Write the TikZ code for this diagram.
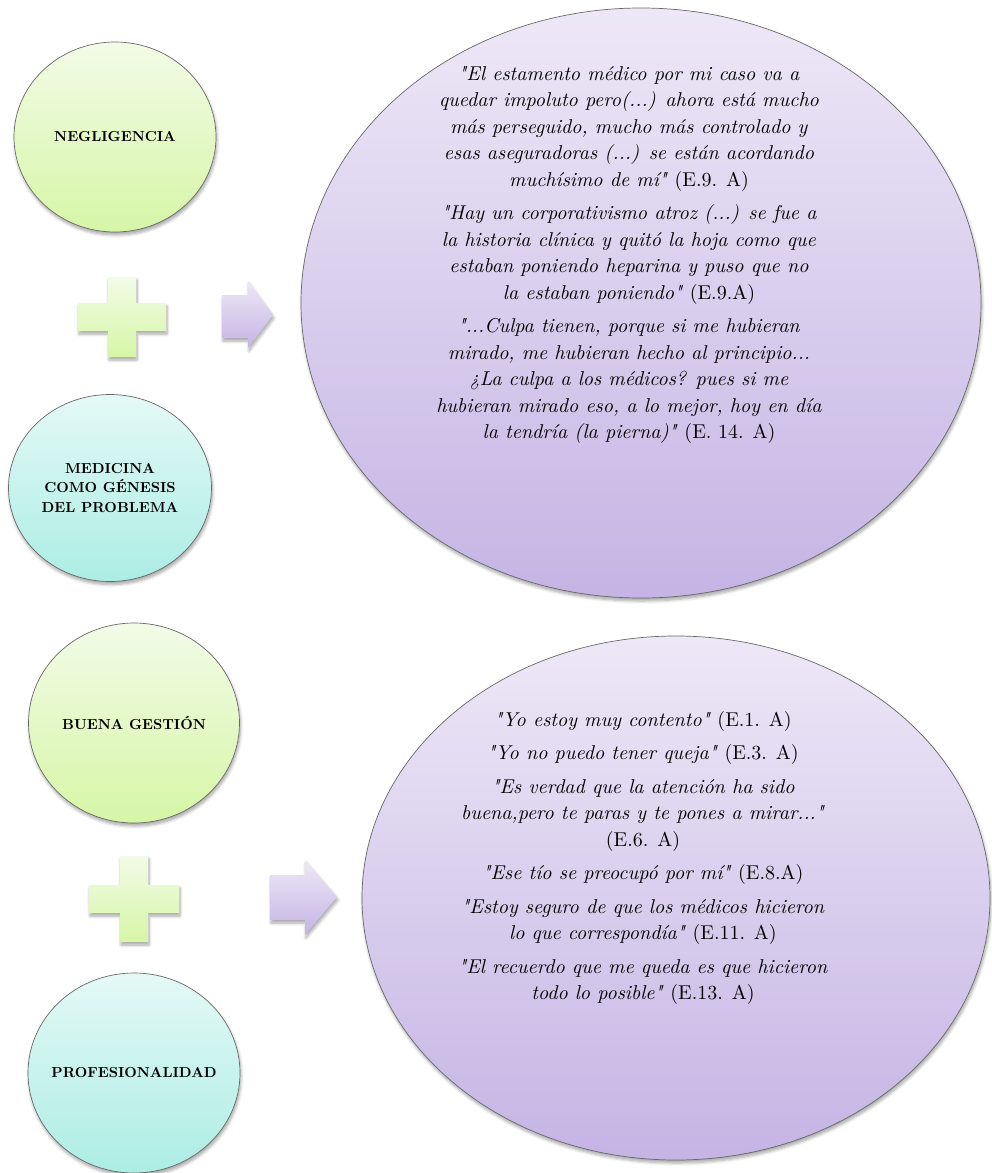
\documentclass[tikz,border=0pt]{standalone}
\usepackage{fontspec}
\setmainfont{lmroman10-regular.otf}[
  ItalicFont=lmroman10-italic.otf,
  BoldFont=lmroman10-bold.otf,
  BoldItalicFont=lmroman10-bolditalic.otf,
  Ligatures=TeXOff]
\usetikzlibrary{shapes.geometric,shadows.blur}

\definecolor{greenTop}{RGB}{242,251,231}
\definecolor{greenBot}{RGB}{214,246,166}
\definecolor{tealTop}{RGB}{228,249,246}
\definecolor{tealBot}{RGB}{172,237,228}
\definecolor{lilacTop}{RGB}{237,232,247}
\definecolor{lilacBot}{RGB}{197,180,228}
\definecolor{rimgray}{RGB}{105,105,105}

\tikzset{
  softshadow/.style={blur shadow={shadow xshift=1pt, shadow yshift=-3pt,
      shadow blur radius=3pt, shadow blur steps=6, shadow opacity=35}},
  bubble/.style={ellipse, draw=rimgray, line width=0.7pt, inner sep=0pt, softshadow},
  greenball/.style={bubble, top color=greenTop, bottom color=greenBot},
  tealball/.style={bubble, top color=tealTop, bottom color=tealBot},
  lilacball/.style={bubble, top color=lilacTop, bottom color=lilacBot},
  tag/.style={font=\fontsize{14.5}{19.5}\selectfont\bfseries, align=center, text=black},
  quotetext/.style={font=\fontsize{20}{26.5}\selectfont, align=center, text=black},
  plusfill/.style={top color=greenTop, bottom color=greenBot, softshadow},
  arrowfill/.style={top color=lilacTop, bottom color=lilacBot, softshadow},
}

\begin{document}
\begin{tikzpicture}[x=1pt,y=-1pt]
  \useasboundingbox (0,0) rectangle (991,1173);

  % ---------- upper group: negligencia ----------
  \node[greenball, minimum width=202pt, minimum height=190pt] (neg) at (115,137) {};
  \node[tag] (negtxt) at (neg.center) {NEGLIGENCIA};

  \begin{scope}[shift={(122,317)}]
    \path[plusfill] (-14,-40) -- (14,-40) -- (14,-14) -- (44,-14) -- (44,14) -- (14,14)
      -- (14,40) -- (-14,40) -- (-14,14) -- (-44,14) -- (-44,-14) -- (-14,-14) -- cycle;
  \end{scope}
  \path[arrowfill] (222,295) -- (248,295) -- (248,281) -- (273,315) -- (248,348)
      -- (248,338) -- (222,338) -- cycle;

  \node[tealball, minimum width=203pt, minimum height=187pt] (med) at (110,488) {};
  \node[tag] (medtxt) at (med.center) {MEDICINA\\COMO GÉNESIS\\DEL PROBLEMA};

  \node[lilacball, minimum width=680pt, minimum height=590pt] (big1) at (641,303) {};
  \node[quotetext] (q1) at (629,255) {%
    \textit{"El estamento médico por mi caso va a}\\
    \textit{quedar impoluto pero(...) ahora está mucho}\\
    \textit{más perseguido, mucho más controlado y}\\
    \textit{esas aseguradoras (...) se están acordando}\\
    \textit{muchísimo de mí"} (E.9. A)\\[7pt]
    \textit{"Hay un corporativismo atroz (...) se fue a}\\
    \textit{la historia clínica y quitó la hoja como que}\\
    \textit{estaban poniendo heparina y puso que no}\\
    \textit{la estaban poniendo"} (E.9.A)\\[7pt]
    \textit{"...Culpa tienen, porque si me hubieran}\\
    \textit{mirado, me hubieran hecho al principio...}\\
    \textit{¿La culpa a los médicos? pues si me}\\
    \textit{hubieran mirado eso, a lo mejor, hoy en día}\\
    \textit{la tendría (la pierna)"} (E. 14. A)};

  % ---------- lower group: buena gestion ----------
  \node[greenball, minimum width=211pt, minimum height=200pt] (gest) at (134,723) {};
  \node[tag] (gesttxt) at (gest.center) {BUENA GESTIÓN};

  \begin{scope}[shift={(134,899)}]
    \path[plusfill] (-14,-43) -- (14,-43) -- (14,-14) -- (45,-14) -- (45,14) -- (14,14)
      -- (14,43) -- (-14,43) -- (-14,14) -- (-45,14) -- (-45,-14) -- (-14,-14) -- cycle;
  \end{scope}
  \path[arrowfill] (270,875) -- (305,875) -- (305,860) -- (337,897) -- (305,935)
      -- (305,920) -- (270,920) -- cycle;

  \node[tealball, minimum width=212pt, minimum height=200pt] (prof) at (134,1073) {};
  \node[tag] (proftxt) at (prof.center) {PROFESIONALIDAD};

  \node[lilacball, minimum width=628pt, minimum height=524pt] (big2) at (676,898) {};
  \node[quotetext] (q2) at (643,858) {%
    \textit{"Yo estoy muy contento"} (E.1. A)\\[7pt]
    \textit{"Yo no puedo tener queja"} (E.3. A)\\[7pt]
    \textit{"Es verdad que la atención ha sido}\\
    \textit{buena,pero te paras y te pones a mirar..."}\\
    (E.6. A)\\[7pt]
    \textit{"Ese tío se preocupó por mí"} (E.8.A)\\[7pt]
    \textit{"Estoy seguro de que los médicos hicieron}\\
    \textit{lo que correspondía"} (E.11. A)\\[7pt]
    \textit{"El recuerdo que me queda es que hicieron}\\
    \textit{todo lo posible"} (E.13. A)};
\end{tikzpicture}
\end{document}
